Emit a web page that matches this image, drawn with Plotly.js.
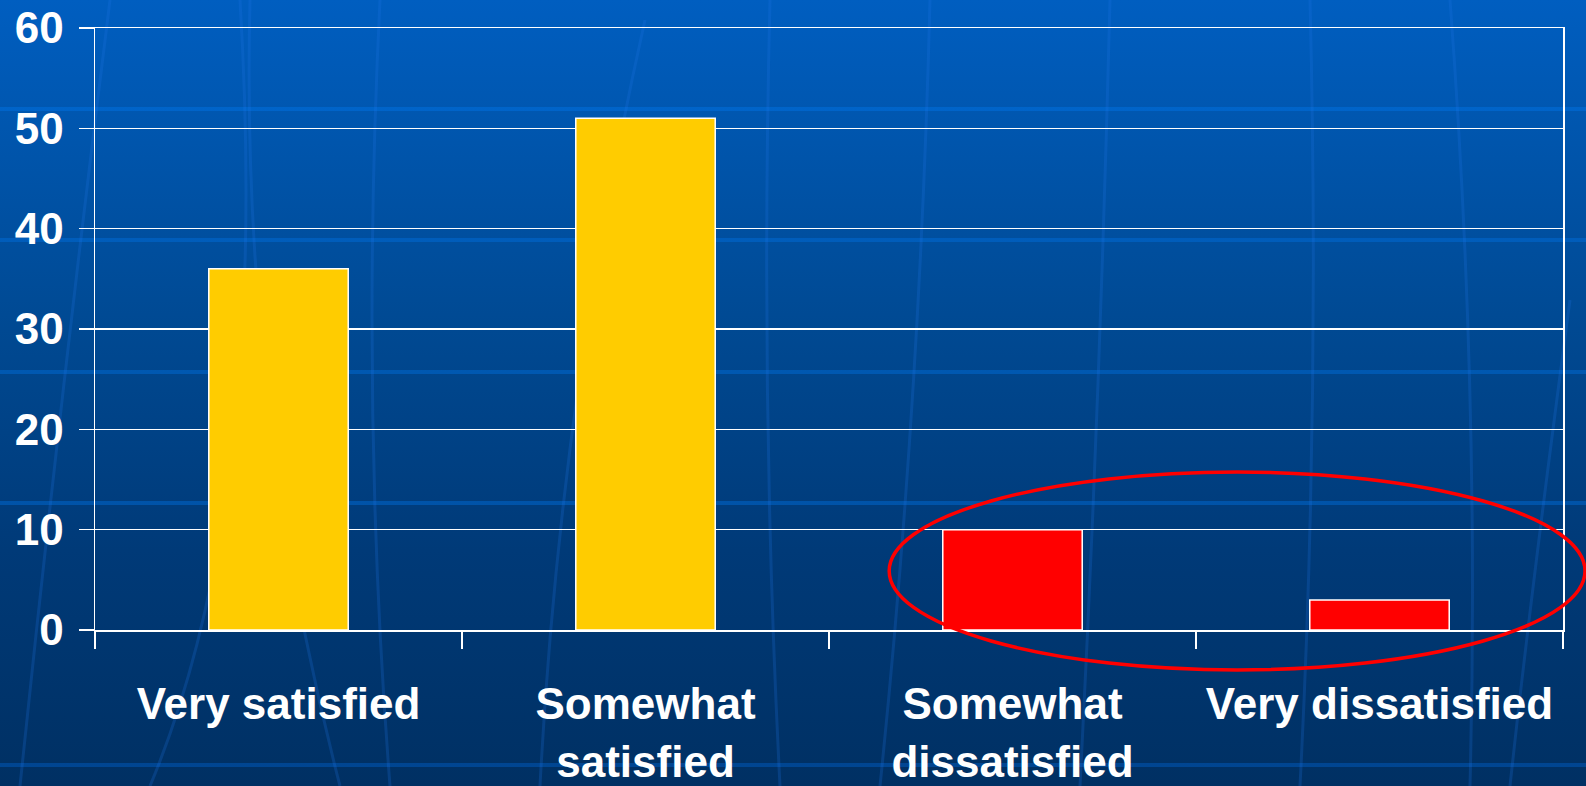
<!DOCTYPE html>
<html>
<head>
<meta charset="utf-8">
<script src="https://cdn.plot.ly/plotly-3.0.1.min.js"></script>
<style>
  html, body { margin: 0; padding: 0; width: 1586px; height: 786px; overflow: hidden; }
  body {
    background:
      linear-gradient(to bottom,
        transparent 0px, transparent 107px, rgba(0,110,220,0.55) 107px, rgba(0,110,220,0.55) 111px, transparent 111px,
        transparent 238px, rgba(0,110,220,0.45) 238px, rgba(0,110,220,0.45) 242px, transparent 242px,
        transparent 370px, rgba(0,110,220,0.45) 370px, rgba(0,110,220,0.45) 374px, transparent 374px,
        transparent 501px, rgba(0,110,220,0.45) 501px, rgba(0,110,220,0.45) 505px, transparent 505px,
        transparent 763px, rgba(0,90,190,0.5) 763px, rgba(0,90,190,0.5) 767px, transparent 767px),
      linear-gradient(to bottom, #005ec0 0%, #004a94 40%, #003a78 70%, #003063 100%);
  }
  #bg { position: absolute; left: 0; top: 0; }
  #chart { position: absolute; left: 0; top: 0; width: 1586px; height: 786px; }
</style>
</head>
<body>
<svg id="bg" width="1586" height="786" xmlns="http://www.w3.org/2000/svg">
  <g fill="none" stroke="rgba(30,120,230,0.22)" stroke-width="3">
    <path d="M110 0 Q 60 400 20 786"/>
    <path d="M250 0 Q 240 400 340 786"/>
    <path d="M240 0 Q 270 500 150 786"/>
    <path d="M380 0 Q 360 400 390 786"/>
    <path d="M645 20 Q 560 400 540 786"/>
    <path d="M770 0 Q 760 400 780 786"/>
    <path d="M930 0 Q 920 400 880 786"/>
    <path d="M1110 0 Q 1100 400 1080 786"/>
    <path d="M1310 0 Q 1320 400 1300 786"/>
    <path d="M1450 0 Q 1480 400 1470 786"/>
    <path d="M1570 300 Q 1530 600 1510 786"/>
  </g>
</svg>
<div id="chart"></div>
<script>
const categories = ["Very satisfied", "Somewhat<br>satisfied", "Somewhat<br>dissatisfied", "Very dissatisfied"];
const values = [36, 51, 10, 3];
const barColors = ["#ffcc00", "#ffcc00", "#ff0000", "#ff0000"];
const yTicks = [0, 10, 20, 30, 40, 50, 60];

const trace = {
  type: "bar",
  x: categories,
  y: values,
  marker: { color: barColors, line: { color: "#ffffff", width: 1.5 } },
  width: 0.38,
  hoverinfo: "none"
};

const labelFont = { family: "Liberation Sans, Arial, sans-serif", size: 44, color: "#ffffff", weight: "bold" };

const layout = {
  width: 1586,
  height: 786,
  margin: { l: 95, r: 23, t: 28, b: 156, pad: 0 },
  paper_bgcolor: "rgba(0,0,0,0)",
  plot_bgcolor: "rgba(0,0,0,0)",
  showlegend: false,
  font: labelFont,
  xaxis: {
    type: "category",
    range: [-0.5, 3.5],
    autorange: false,
    tickson: "boundaries",
    tickangle: 0,
    ticks: "outside",
    ticklen: 17,
    tickwidth: 1.5,
    tickcolor: "#ffffff",
    showline: true,
    linecolor: "#ffffff",
    linewidth: 1.5,
    mirror: true,
    showgrid: false,
    tickfont: labelFont,
    ticklabelstandoff: 35,
    fixedrange: true
  },
  yaxis: {
    range: [0, 60],
    autorange: false,
    tickvals: yTicks,
    ticktext: yTicks.map(String),
    ticks: "outside",
    ticklen: 15,
    tickwidth: 1.5,
    tickcolor: "#ffffff",
    showline: true,
    linecolor: "#ffffff",
    linewidth: 1.5,
    mirror: true,
    showgrid: true,
    gridcolor: "#ffffff",
    gridwidth: 1.5,
    zeroline: false,
    tickfont: labelFont,
    ticklabelstandoff: 6,
    fixedrange: true
  },
  shapes: [
    {
      type: "circle",
      xref: "paper", yref: "paper",
      x0: 0.541, x1: 1.015, y0: -0.0664, y1: 0.2625,
      line: { color: "#ff0000", width: 3.5 },
      fillcolor: "rgba(0,0,0,0)",
      layer: "above"
    }
  ]
};

Plotly.newPlot("chart", [trace], layout, { displayModeBar: false, staticPlot: true });
</script>
</body>
</html>
